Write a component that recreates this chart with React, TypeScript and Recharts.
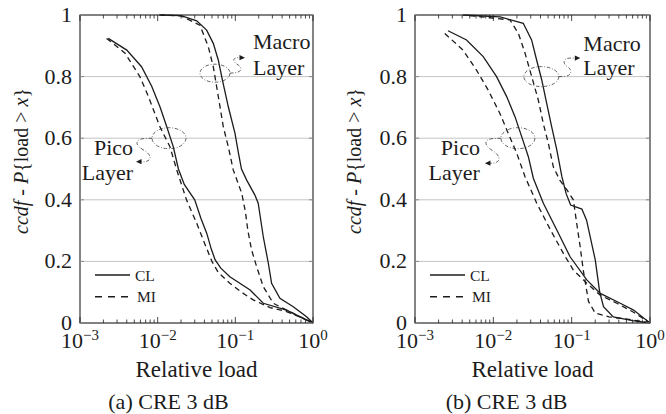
import React from 'react';
import {
  LineChart,
  Line,
  XAxis,
  YAxis,
  CartesianGrid,
  ReferenceArea,
  ReferenceDot,
  Legend,
} from 'recharts';

const FONT = 'Liberation Serif, DejaVu Serif, Noto Serif, serif';
const INK = '#1c1c1c';

// ---------- data: [relative load, ccdf] ----------
// Panel (a)
const picoCL_a = [
  [0.00231, 0.924], [0.004, 0.886], [0.0062, 0.832], [0.0084, 0.768], [0.0107, 0.702],
  [0.0131, 0.637], [0.0159, 0.572], [0.0185, 0.5], [0.022, 0.45], [0.03, 0.4],
  [0.036, 0.34], [0.043, 0.29], [0.049, 0.24], [0.055, 0.205], [0.065, 0.178],
  [0.085, 0.15], [0.155, 0.107], [0.229, 0.064], [0.457, 0.042], [0.75, 0.015], [1, 0],
];
const picoMI_a = [
  [0.0022, 0.924], [0.0038, 0.876], [0.0059, 0.8], [0.0076, 0.735], [0.0107, 0.637],
  [0.0144, 0.572], [0.0176, 0.497], [0.0235, 0.4], [0.0318, 0.324], [0.04, 0.26],
  [0.05, 0.2], [0.06, 0.165], [0.085, 0.129], [0.12, 0.1], [0.17, 0.075], [0.28, 0.05],
  [0.457, 0.037], [0.7, 0.018], [1, 0],
];
const macroCL_a = [
  [0.011, 1], [0.02, 0.998], [0.0318, 0.981], [0.0427, 0.951], [0.052, 0.908],
  [0.0603, 0.854], [0.068, 0.79], [0.0812, 0.702], [0.099, 0.616], [0.11, 0.55],
  [0.12, 0.5], [0.14, 0.464], [0.178, 0.416], [0.197, 0.389], [0.229, 0.28],
  [0.266, 0.194], [0.293, 0.129], [0.375, 0.08], [0.557, 0.053], [0.826, 0.02], [1, 0],
];
const macroMI_a = [
  [0.0105, 1], [0.02, 0.997], [0.035, 0.967], [0.0449, 0.897], [0.052, 0.832],
  [0.0575, 0.767], [0.0635, 0.702], [0.07, 0.637], [0.0812, 0.572], [0.094, 0.497],
  [0.121, 0.421], [0.135, 0.36], [0.145, 0.3], [0.162, 0.237], [0.188, 0.183],
  [0.229, 0.118], [0.308, 0.064], [0.557, 0.031], [1, 0],
];
// Panel (b)
const picoCL_b = [
  [0.00264, 0.949], [0.00455, 0.919], [0.00743, 0.865], [0.011, 0.8], [0.0148, 0.735],
  [0.0189, 0.67], [0.023, 0.605], [0.028, 0.54], [0.0324, 0.47], [0.0435, 0.389],
  [0.0646, 0.302], [0.0955, 0.215], [0.156, 0.14], [0.232, 0.096], [0.417, 0.064],
  [0.617, 0.042], [1, 0],
];
const picoMI_b = [
  [0.0024, 0.94], [0.0041, 0.886], [0.0061, 0.821], [0.0086, 0.756], [0.0121, 0.681],
  [0.0155, 0.616], [0.0199, 0.551], [0.0254, 0.475], [0.0358, 0.389], [0.0537, 0.302],
  [0.0783, 0.226], [0.105, 0.172], [0.156, 0.129], [0.232, 0.09], [0.378, 0.064],
  [0.617, 0.035], [1, 0],
];
const macroCL_b = [
  [0.0041, 1], [0.0122, 0.994], [0.0241, 0.973], [0.0308, 0.919], [0.0357, 0.854],
  [0.0415, 0.789], [0.048, 0.713], [0.0556, 0.637], [0.0646, 0.562], [0.075, 0.475],
  [0.085, 0.42], [0.097, 0.383], [0.135, 0.37], [0.155, 0.334], [0.2, 0.205],
  [0.228, 0.1], [0.255, 0.053], [0.34, 0.02], [0.6, 0.008], [1, 0],
];
const macroMI_b = [
  [0.005, 0.998], [0.0163, 0.984], [0.0209, 0.94], [0.0254, 0.876], [0.0309, 0.8],
  [0.0375, 0.724], [0.0434, 0.648], [0.0504, 0.583], [0.0583, 0.507], [0.0705, 0.464],
  [0.087, 0.432], [0.105, 0.4], [0.115, 0.33], [0.128, 0.25], [0.141, 0.17],
  [0.164, 0.07], [0.2, 0.032], [0.3, 0.02], [0.6, 0.01], [1, 0],
];

// ---------- axes / legend text ----------
const MAJOR_TICKS = [0.001, 0.01, 0.1, 1];
const X_TICK_EXPONENTS = ['\u22123', '\u22122', '\u22121', '0'];
const MINOR_STEPS = [2, 3, 4, 5, 6, 7, 8, 9];
const X_TICKS = [
  ...MAJOR_TICKS,
  ...MAJOR_TICKS.slice(0, 3).flatMap((d) => MINOR_STEPS.map((m) => +(d * m).toPrecision(3))),
].sort((a, b) => a - b);
const Y_TICKS = [0, 0.2, 0.4, 0.6, 0.8, 1];
const Y_TICK_LABELS = ['0', '0.2', '0.4', '0.6', '0.8', '1'];
const X_LABEL = 'Relative load';
const LEGEND_ITEMS = [
  { label: 'CL', dashed: false },
  { label: 'MI', dashed: true },
];

const toPts = (a: number[][]) => a.map(([x, y]) => ({ x, y }));

type Note = {
  x: number; y: number; rx: number; ry: number;
  lines: string[]; anchor: 'start' | 'end'; tdx: number; tdy: number[];
  path: string; tip: [number, number]; dir: 1 | -1;
};

const PANELS = [
  {
    caption: '(a) CRE 3 dB',
    ml: 80,
    mr: 20,
    captionDx: -28,
    series: [
      { key: 'picoCL', data: toPts(picoCL_a), dashed: false },
      { key: 'picoMI', data: toPts(picoMI_a), dashed: true },
      { key: 'macroCL', data: toPts(macroCL_a), dashed: false },
      { key: 'macroMI', data: toPts(macroMI_a), dashed: true },
    ],
    notes: [
      {
        x: 0.0547, y: 0.811, rx: 15, ry: 9, lines: ['Macro', 'Layer'], anchor: 'start',
        tdx: 38, tdy: [-24, 2],
        path: 'M 15 0 L 20 -0.5 C 28 -1.5, 27 -6, 22 -9 C 17 -12, 18 -15.5, 23 -15.5 L 25 -15.5',
        tip: [30, -15.5], dir: 1,
      },
      {
        x: 0.014, y: 0.6, rx: 17, ry: 10.5, lines: ['Pico', 'Layer'], anchor: 'end',
        tdx: -36, tdy: [17, 42],
        path: 'M -17 0 L -26 0.5 C -34 1.5, -34 7, -26 11.5 C -18 16, -16 22, -24 23.5 L -28 23.5',
        tip: [-33, 23.5], dir: -1,
      },
    ] as Note[],
  },
  {
    caption: '(b) CRE 3 dB',
    ml: 82,
    mr: 16,
    captionDx: -26,
    series: [
      { key: 'picoCL', data: toPts(picoCL_b), dashed: false },
      { key: 'picoMI', data: toPts(picoMI_b), dashed: true },
      { key: 'macroCL', data: toPts(macroCL_b), dashed: false },
      { key: 'macroMI', data: toPts(macroMI_b), dashed: true },
    ],
    notes: [
      {
        x: 0.041, y: 0.8, rx: 17.5, ry: 10, lines: ['Macro', 'Layer'], anchor: 'start',
        tdx: 42, tdy: [-26, -1.5],
        path: 'M 17.5 0 L 23 0 C 31 -1, 31 -7, 26 -10 C 21 -13, 22 -18.5, 28 -18.5 L 34 -18.5',
        tip: [39, -18.5], dir: 1,
      },
      {
        x: 0.0206, y: 0.6, rx: 17, ry: 10.5, lines: ['Pico', 'Layer'], anchor: 'end',
        tdx: -38, tdy: [17, 42],
        path: 'M -17 0 L -26 0.5 C -34 1.5, -34 7, -26 12 C -18 17, -16 23, -24 25 L -28 25',
        tip: [-33, 25], dir: -1,
      },
    ] as Note[],
  },
];

const W = 333;
const H = 414;
const MT = 15;
const MB = 91;

const T = (p: any) => <text fontFamily={FONT} fill={INK} {...p} />;

function XTick(props: any) {
  const { x, y, payload, plotH } = props;
  const v = payload.value;
  const idx = MAJOR_TICKS.findIndex((m) => Math.abs(m - v) / m < 1e-6);
  const len = idx >= 0 ? 6 : 3.5;
  return (
    <g>
      <line x1={x} y1={y} x2={x} y2={y - len} stroke={INK} strokeWidth={0.8} />
      <line x1={x} y1={y - plotH} x2={x} y2={y - plotH + len} stroke={INK} strokeWidth={0.8} />
      {idx >= 0 && (
        <T x={x} y={y + 25} textAnchor="middle" fontSize={22}>
          <tspan>10</tspan>
          <tspan dy={-8} fontSize={15}>{X_TICK_EXPONENTS[idx]}</tspan>
        </T>
      )}
    </g>
  );
}

function YTick(props: any) {
  const { x, y, payload, plotW } = props;
  const idx = Y_TICKS.findIndex((t) => Math.abs(t - payload.value) < 1e-9);
  return (
    <g>
      <line x1={x} y1={y} x2={x + 4} y2={y} stroke="#8a8a8a" strokeWidth={1} />
      <line x1={x + plotW - 4} y1={y} x2={x + plotW} y2={y} stroke="#8a8a8a" strokeWidth={1} />
      <T x={x - 8} y={y + 7} textAnchor="end" fontSize={22}>
        {Y_TICK_LABELS[idx]}
      </T>
    </g>
  );
}

function XLabel(props: any) {
  const vb = props.viewBox || {};
  const { ml, plotW, captionDx, caption } = props;
  const x0 = vb.x ?? ml;
  const y0 = vb.y ?? H - MB;
  const cx = x0 + plotW / 2;
  return (
    <g>
      <T x={cx} y={y0 + 54} textAnchor="middle" fontSize={23}>
        {X_LABEL}
      </T>
      <T x={cx + captionDx} y={y0 + 86} textAnchor="middle" fontSize={22}>
        {caption}
      </T>
    </g>
  );
}

function YLabel(props: any) {
  const vb = props.viewBox || {};
  const y0 = vb.y ?? MT;
  const h = vb.height ?? H - MT - MB;
  const cy = y0 + h / 2 - 8;
  return (
    <T transform={`translate(28, ${cy}) rotate(-90)`} textAnchor="middle" fontSize={20}>
      <tspan fontStyle="italic">ccdf</tspan>
      <tspan>{' - '}</tspan>
      <tspan fontStyle="italic">P</tspan>
      <tspan>{'{load > '}</tspan>
      <tspan fontStyle="italic">x</tspan>
      <tspan>{'}'}</tspan>
    </T>
  );
}

function NoteShape(props: any) {
  const { cx, cy, note } = props as { cx: number; cy: number; note: Note };
  if (cx == null || cy == null) return null;
  const [tx, ty] = note.tip;
  const d = note.dir;
  const head = `${tx},${ty} ${tx - d * 5.5},${ty - 2.6} ${tx - d * 5.5},${ty + 2.6}`;
  return (
    <g transform={`translate(${cx}, ${cy})`}>
      <ellipse cx={0} cy={0} rx={note.rx} ry={note.ry} fill="none" stroke="#3a3a3a" strokeWidth={0.8} strokeDasharray="3.5 1.8 0.8 1.8" />
      <path d={note.path} fill="none" stroke="#3a3a3a" strokeWidth={0.8} strokeDasharray="3.5 1.8 0.8 1.8" />
      <polygon points={head} fill="#1c1c1c" />
      {note.lines.map((t, i) => (
        <T key={i} x={note.tdx} y={note.tdy[i]} textAnchor={note.anchor} fontSize={22}>
          {t}
        </T>
      ))}
    </g>
  );
}

function LegendBox() {
  return (
    <svg width={80} height={45} style={{ display: 'block', overflow: 'visible' }}>
      {LEGEND_ITEMS.map((it, i) => {
        const ly = 10 + i * 21.7;
        return (
          <g key={it.label}>
            <line x1={0} y1={ly} x2={it.dashed ? 33 : 35} y2={ly} stroke={INK} strokeWidth={1.4} strokeDasharray={it.dashed ? '7 6' : undefined} />
            <T x={it.dashed ? 42 : 40} y={ly + 5.5} fontSize={15.5}>
              {it.label}
            </T>
          </g>
        );
      })}
    </svg>
  );
}

function Panel({ panel }: { panel: (typeof PANELS)[number] }) {
  const { ml, mr, caption, captionDx, series, notes } = panel;
  const plotW = W - ml - mr;
  const plotH = H - MT - MB;
  return (
    <LineChart width={W} height={H} margin={{ top: MT, right: mr, bottom: 0, left: 0 }}>
      <CartesianGrid vertical={false} stroke="#c4c4c4" strokeWidth={1} />
      <XAxis
        dataKey="x"
        type="number"
        scale="log"
        domain={[0.001, 1]}
        allowDataOverflow
        ticks={X_TICKS}
        interval={0}
        tickSize={0}
        tickMargin={0}
        axisLine={false}
        tickLine={false}
        height={MB}
        tick={(p: any) => <XTick {...p} plotH={plotH} />}
        label={<XLabel ml={ml} plotW={plotW} captionDx={captionDx} caption={caption} />}
      />
      <YAxis
        type="number"
        domain={[0, 1]}
        ticks={Y_TICKS}
        interval={0}
        width={ml}
        tickSize={0}
        tickMargin={0}
        axisLine={false}
        tickLine={false}
        tick={(p: any) => <YTick {...p} plotW={plotW} />}
        label={<YLabel />}
      />
      <ReferenceArea x1={0.001} x2={1} y1={0} y2={1} fill="none" fillOpacity={0} stroke="#222" strokeWidth={1.1} ifOverflow="visible" />
      {series.map((s) => (
        <Line
          key={s.key}
          data={s.data}
          dataKey="y"
          type="linear"
          stroke={INK}
          strokeWidth={1.3}
          strokeDasharray={s.dashed ? '5.5 4' : undefined}
          dot={false}
          activeDot={false}
          isAnimationActive={false}
        />
      ))}
      {notes.map((n, i) => (
        <ReferenceDot
          key={i}
          x={n.x}
          y={n.y}
          r={0}
          ifOverflow="visible"
          shape={(p: any) => <NoteShape {...p} note={n} />}
        />
      ))}
      <Legend
        layout="vertical"
        align="center"
        verticalAlign="middle"
        wrapperStyle={{ left: ml + 15, top: 265, width: 80, height: 45 }}
        content={() => <LegendBox />}
      />
    </LineChart>
  );
}

export default function App() {
  return (
    <div
      style={{
        position: 'absolute',
        left: 0,
        top: 0,
        width: 666,
        height: 414,
        background: '#fff',
        display: 'flex',
        flexDirection: 'row',
      }}
    >
      {PANELS.map((p) => (
        <Panel key={p.caption} panel={p} />
      ))}
    </div>
  );
}
